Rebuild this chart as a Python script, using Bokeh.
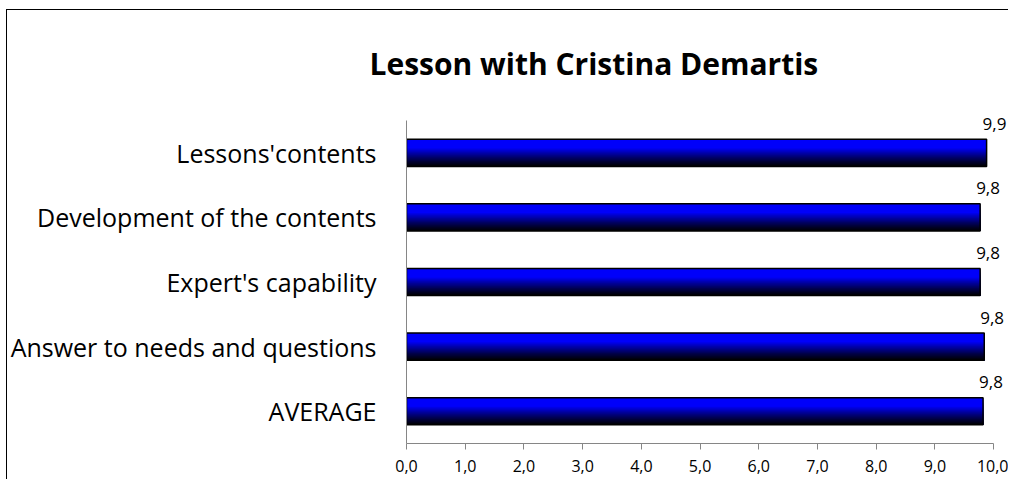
from bokeh.plotting import figure
from bokeh.models import FixedTicker
from bokeh.core.properties import value
from bokeh.embed import file_html
from bokeh.resources import INLINE

# ---- data ----
categories = ["Lessons'contents", "Development of the contents", "Expert's capability",
              "Answer to needs and questions", "AVERAGE"]
scores = [9.88, 9.77, 9.77, 9.84, 9.82]
score_labels = ["9,9", "9,8", "9,8", "9,8", "9,8"]
x_ticks = [0, 1, 2, 3, 4, 5, 6, 7, 8, 9, 10]
x_tick_labels = ["0,0", "1,0", "2,0", "3,0", "4,0", "5,0", "6,0", "7,0", "8,0", "9,0", "10,0"]
title_text = "Lesson with Cristina Demartis"

FONT = "Open Sans"

# category positions (first category at top)
ncat = len(categories)
y_pos = [ncat - 1 - i for i in range(ncat)]

p = figure(width=1002, height=470, output_backend="svg", toolbar_location=None,
           y_range=(-0.5, ncat - 0.5 + 0.31), x_range=(0, 10.27),
           min_border_left=399, min_border_right=0, min_border_top=90, min_border_bottom=37)
p.styles = {"border-top": "1px solid black", "border-left": "1px solid black",
            "margin-left": "6px", "margin-top": "9px"}
p.outline_line_color = None
p.xgrid.grid_line_color = None
p.ygrid.grid_line_color = None
p.background_fill_color = "white"
p.border_fill_color = "white"

# title
p.title.text = title_text
p.title.text_font = FONT
p.title.text_font_size = "30px"
p.title.text_font_style = "bold"
p.title.text_color = "#000000"
p.title.align = "left"
p.title.offset = -37
p.title.standoff = 34

# x axis
p.xaxis.ticker = FixedTicker(ticks=x_ticks)
p.xaxis.bounds = (0, 10)
p.xaxis.major_label_overrides = {t: l for t, l in zip(x_ticks, x_tick_labels)}
p.xaxis.axis_line_color = "#868686"
p.xaxis.major_tick_line_color = "#868686"
p.xaxis.major_tick_out = 6
p.xaxis.major_tick_in = 0
p.xaxis.minor_tick_line_color = None
p.xaxis.major_label_text_font = FONT
p.xaxis.major_label_text_font_size = "16px"
p.xaxis.major_label_text_color = "#000000"
p.xaxis.major_label_standoff = 10

# y axis (category names as tick labels)
p.yaxis.ticker = FixedTicker(ticks=y_pos)
p.yaxis.bounds = (-0.5, ncat - 0.5)
p.yaxis.major_label_overrides = {y: c for y, c in zip(y_pos, categories)}
p.yaxis.axis_line_color = "#868686"
p.yaxis.major_tick_line_color = None
p.yaxis.minor_tick_line_color = None
p.yaxis.major_label_text_font = FONT
p.yaxis.major_label_text_font_size = "25px"
p.yaxis.major_label_text_color = "#000000"
p.yaxis.major_label_standoff = 24

# gradient bars: each layer spans from its own top down to the bar bottom
bar_h = 0.42
n = 30
for i in range(n):
    t = i / n  # 0 top -> 1 bottom
    if t < 0.3:
        b = 250
    else:
        b = int(250 * (1 - (t - 0.3) / 0.7) ** 1.2)
    color = "#%02x%02x%02x" % (0, 0, max(b, 0))
    top = bar_h / 2 - i * bar_h / n
    bottom = -bar_h / 2
    src_i = dict(y=[y + (top + bottom) / 2 for y in y_pos], val=scores)
    p.hbar(y="y", right="val", left=0, height=top - bottom,
           source=src_i, fill_color=color, line_color=None)

src = dict(y=y_pos, val=scores, lab=score_labels)
p.hbar(y="y", right="val", left=0, height=bar_h, source=src,
       fill_alpha=0, line_color="black", line_width=1.5)

p.text(x="val", y="y", text="lab", source=src, text_font=value(FONT),
       text_font_size="17px", text_color="#000000", text_align="left",
       text_baseline="middle", x_offset=-4, y_offset=-29)

open("out.html", "w").write(file_html(p, INLINE))
